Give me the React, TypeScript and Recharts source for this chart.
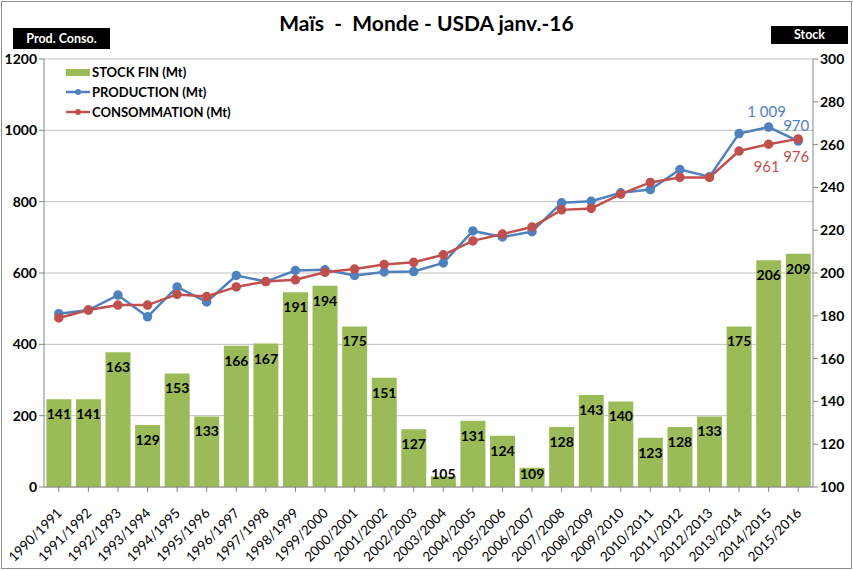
import React from "react";
import {
  Bar,
  CartesianGrid,
  ComposedChart,
  LabelList,
  Line,
  XAxis,
  YAxis,
} from "recharts";

const campaigns = [
  "1990/1991", "1991/1992", "1992/1993", "1993/1994", "1994/1995", "1995/1996",
  "1996/1997", "1997/1998", "1998/1999", "1999/2000", "2000/2001", "2001/2002",
  "2002/2003", "2003/2004", "2004/2005", "2005/2006", "2006/2007", "2007/2008",
  "2008/2009", "2009/2010", "2010/2011", "2011/2012", "2012/2013", "2013/2014",
  "2014/2015", "2015/2016",
];

const stockFin = [
  141, 141, 163, 129, 153, 133, 166, 167, 191, 194, 175, 151, 127, 105, 131, 124,
  109, 128, 143, 140, 123, 128, 133, 175, 206, 209,
];

const production = [
  486, 496, 538, 477, 561, 519, 593, 576, 607, 609, 593, 603, 604, 628, 718, 701,
  716, 797, 801, 825, 834, 890, 870, 991, 1009, 970,
];

const consommation = [
  474, 496, 510, 510, 540, 534, 561, 576, 581, 602, 611, 624, 630, 651, 690, 709,
  729, 777, 781, 821, 854, 868, 868, 942, 961, 976,
];

const leftTicks = [0, 200, 400, 600, 800, 1000, 1200];
const rightTicks = [100, 120, 140, 160, 180, 200, 220, 240, 260, 280, 300];

// only the last two campaigns carry a label on the lines
const labelledFrom = campaigns.length - 2;

const GREEN = "#9bbb59";
const BLUE = "#4f81bd";
const RED = "#c0504d";
const FONT = "Lato, 'Open Sans', sans-serif";

const data = campaigns.map((c, i) => ({
  campagne: c,
  stock: stockFin[i],
  prod: production[i],
  conso: consommation[i],
}));

const XTick = ({ x, y, payload }: any) => {
  const ax = x + 4;
  const ay = y + 20;
  return (
    <text
      x={ax}
      y={ay}
      transform={`rotate(-45 ${ax} ${ay})`}
      textAnchor="end"
      fontSize={13.5}
      fontFamily={FONT}
      fill="#000"
    >
      {payload.value}
    </text>
  );
};

// inside-end label, pushed up out of the bar when the bar is too short (like Excel)
const BarLabel = ({ x, y, width, height, value }: any) => {
  const bottom = y + height;
  const cy = Math.min(y + 15, bottom - 13);
  return (
    <text
      x={x + width / 2}
      y={cy}
      dy="0.35em"
      textAnchor="middle"
      fontSize={14}
      fontWeight={700}
      fontFamily={FONT}
      fill="#000"
    >
      {value}
    </text>
  );
};

const fmt = (v: number) => (v >= 1000 ? `${Math.floor(v / 1000)} ${String(v % 1000).padStart(3, "0")}` : String(v));

const ProdLabel = ({ x, y, value, index }: any) => {
  if (index < labelledFrom) return null;
  return (
    <text x={x - 2} y={y - 10} textAnchor="middle" fontSize={15} fontFamily={FONT} fill={BLUE}>
      {fmt(value)}
    </text>
  );
};

const ConsoLabel = ({ x, y, value, index }: any) => {
  if (index < labelledFrom) return null;
  return (
    <text x={x - 2} y={y + 28 - (index - labelledFrom) * 5} textAnchor="middle" fontSize={15} fontFamily={FONT} fill={RED}>
      {fmt(value)}
    </text>
  );
};

const legendItems = [
  { label: "STOCK FIN (Mt)", color: GREEN, kind: "bar" },
  { label: "PRODUCTION (Mt)", color: BLUE, kind: "line" },
  { label: "CONSOMMATION (Mt)", color: RED, kind: "line" },
];

const LegendBox = () => (
  <svg width={230} height={70} style={{ position: "absolute", left: 66, top: 64 }}>
    {legendItems.map((it, i) => {
      const cy = 8 + i * 20;
      return (
        <g key={it.label}>
          {it.kind === "bar" ? (
            <rect x={0} y={cy - 3} width={24} height={7} fill={it.color} />
          ) : (
            <g>
              <line x1={0} x2={24} y1={cy} y2={cy} stroke={it.color} strokeWidth={2.5} />
              <circle cx={12} cy={cy} r={3} fill={it.color} />
            </g>
          )}
          <text x={26} y={cy + 5} fontSize={13} fontWeight={700} fontFamily={FONT} fill="#000">
            {it.label}
          </text>
        </g>
      );
    })}
  </svg>
);

const boxStyle: React.CSSProperties = {
  position: "absolute",
  background: "#000",
  color: "#fff",
  fontFamily: FONT,
  fontWeight: 700,
  fontSize: 12.5,
  textAlign: "center",
};

export default function App() {
  return (
    <div style={{ position: "absolute", left: 0, top: 0, width: 853, height: 570, background: "#fff" }}>
      <div
        style={{
          position: "absolute",
          left: 1,
          top: 1,
          width: 849,
          height: 566,
          border: "1px solid #8c8c8c",
        }}
      />
      <div
        style={{
          position: "absolute",
          left: 0,
          width: 853,
          top: 10,
          textAlign: "center",
          fontFamily: FONT,
          fontWeight: 700,
          fontSize: 21,
          whiteSpace: "pre",
        }}
      >
        {"Maïs  -  Monde - USDA janv.-16"}
      </div>
      <div style={{ ...boxStyle, left: 13, top: 28, width: 97, height: 21, lineHeight: "21px" }}>Prod. Conso.</div>
      <div style={{ ...boxStyle, left: 771, top: 26, width: 77, height: 18, lineHeight: "18px" }}>Stock</div>
      <div style={{ position: "absolute", left: 0, top: 0 }}>
        <ComposedChart
          width={853}
          height={570}
          data={data}
          margin={{ top: 59, right: 0, bottom: 0, left: 4 }}
          barCategoryGap="8%"
        >
          <CartesianGrid vertical={false} stroke="#bfbfbf" yAxisId="left" />
          <XAxis
            dataKey="campagne"
            interval={0}
            height={83}
            tick={<XTick />}
            tickLine={{ stroke: "#868686" }}
            axisLine={{ stroke: "#868686" }}
            tickSize={5}
          />
          <YAxis
            yAxisId="left"
            domain={[0, 1200]}
            ticks={leftTicks}
            width={40}
            tick={{ fontSize: 14, fontWeight: 700, fill: "#000", fontFamily: FONT }}
            tickLine={{ stroke: "#868686" }}
            axisLine={{ stroke: "#868686" }}
            tickSize={5}
          />
          <YAxis
            yAxisId="right"
            orientation="right"
            domain={[100, 300]}
            ticks={rightTicks}
            width={40}
            tick={{ fontSize: 14, fontWeight: 700, fill: "#000", fontFamily: FONT }}
            tickLine={{ stroke: "#868686" }}
            axisLine={{ stroke: "#868686" }}
            tickSize={5}
          />
          <Bar yAxisId="right" dataKey="stock" name="STOCK FIN (Mt)" fill={GREEN} isAnimationActive={false}>
            <LabelList dataKey="stock" content={<BarLabel />} />
          </Bar>
          <Line
            yAxisId="left"
            dataKey="prod"
            name="PRODUCTION (Mt)"
            stroke={BLUE}
            strokeWidth={2.5}
            dot={{ r: 3.5, fill: BLUE, stroke: BLUE }}
            isAnimationActive={false}
          >
            <LabelList dataKey="prod" content={<ProdLabel />} />
          </Line>
          <Line
            yAxisId="left"
            dataKey="conso"
            name="CONSOMMATION (Mt)"
            stroke={RED}
            strokeWidth={2.5}
            dot={{ r: 3.5, fill: RED, stroke: RED }}
            isAnimationActive={false}
          >
            <LabelList dataKey="conso" content={<ConsoLabel />} />
          </Line>
        </ComposedChart>
      </div>
      <LegendBox />
    </div>
  );
}
